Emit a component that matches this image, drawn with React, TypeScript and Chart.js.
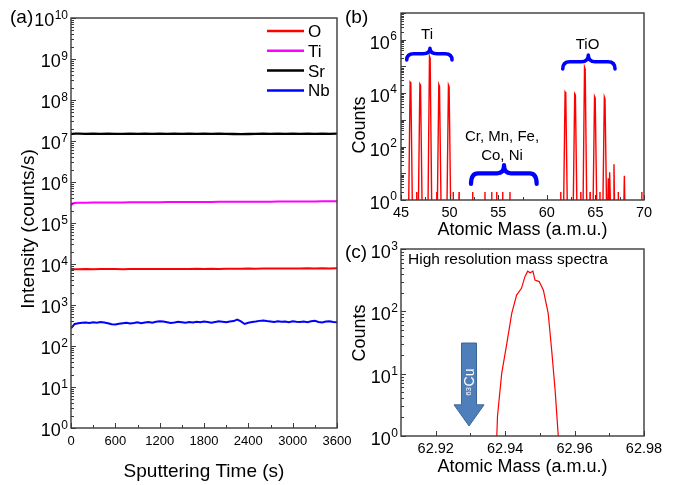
import React, { useEffect, useRef } from "react";
import { Chart, registerables } from "chart.js";
Chart.register(...registerables);

const FONT = '"Liberation Sans", Arial, Helvetica, sans-serif';
const AXIS = "#3a3a3a";

// ---------------- (a) depth profile ----------------
const timeA = [0, 25, 50, 100, 200, 300, 400, 500, 600, 700, 800, 900, 1000, 1100, 1200, 1300, 1400, 1500, 1600, 1700, 1800, 1900, 2000, 2100, 2200, 2300, 2400, 2500, 2600, 2700, 2800, 2900, 3000, 3100, 3200, 3300, 3400, 3500, 3600];
const oCounts = [7100, 7300, 7400, 7450, 7500, 7450, 7500, 7550, 7500, 7450, 7500, 7550, 7500, 7600, 7550, 7500, 7600, 7550, 7600, 7650, 7600, 7650, 7600, 7700, 7650, 7700, 7750, 7700, 7750, 7800, 7750, 7800, 7750, 7800, 7850, 7800, 7850, 7800, 7850];
const tiCounts = [270000, 300000, 308000, 312000, 314000, 315000, 316000, 317000, 318000, 318000, 319000, 320000, 321000, 322000, 322000, 323000, 324000, 324000, 325000, 326000, 326000, 327000, 328000, 328000, 329000, 330000, 330000, 331000, 332000, 332000, 333000, 334000, 334000, 335000, 336000, 336000, 337000, 338000, 338000];
const srCounts = [15000000, 15000000, 15100000, 15100000, 15000000, 15100000, 15000000, 15100000, 15000000, 15000000, 15100000, 15000000, 15100000, 15000000, 15100000, 15000000, 15100000, 15000000, 15100000, 15000000, 15100000, 15000000, 15100000, 15000000, 14800000, 14700000, 14800000, 15000000, 15100000, 15000000, 15100000, 15000000, 15100000, 15000000, 15100000, 15000000, 15100000, 15000000, 15100000];
const timeNb = [0, 50, 100, 150, 200, 250, 300, 350, 400, 450, 500, 550, 600, 650, 700, 750, 800, 850, 900, 950, 1000, 1050, 1100, 1150, 1200, 1250, 1300, 1350, 1400, 1450, 1500, 1550, 1600, 1650, 1700, 1750, 1800, 1850, 1900, 1950, 2000, 2050, 2100, 2150, 2200, 2250, 2300, 2350, 2400, 2450, 2500, 2550, 2600, 2650, 2700, 2750, 2800, 2850, 2900, 2950, 3000, 3050, 3100, 3150, 3200, 3250, 3300, 3350, 3400, 3450, 3500, 3550, 3600];
const nbCounts = [270, 345, 360, 370, 375, 365, 380, 370, 385, 375, 360, 340, 335, 350, 360, 370, 355, 365, 380, 360, 375, 385, 370, 390, 400, 395, 380, 365, 375, 390, 380, 370, 385, 375, 390, 380, 395, 385, 370, 385, 400, 390, 380, 395, 405, 440, 400, 345, 370, 385, 395, 410, 420, 405, 395, 385, 400, 390, 395, 380, 400, 390, 385, 395, 380, 400, 410, 385, 375, 395, 400, 385, 380];
const profileLabels = ["O", "Ti", "Sr", "Nb"];
const profileColors = ["#ff0000", "#ff00ff", "#000000", "#0000ff"];
const timeMajor = [0, 600, 1200, 1800, 2400, 3000, 3600];
const timeMinor = [300, 900, 1500, 2100, 2700, 3300];
const expA = [0, 1, 2, 3, 4, 5, 6, 7, 8, 9, 10];

// ---------------- (b) mass spectrum ----------------
const massB = [
  45.78, 45.94, 46.01, 46.18, 46.59, 46.61, 46.63, 46.78, 46.94, 47.01, 47.18,
  47.77, 47.93, 48.0, 48.17, 48.65, 48.67, 48.69, 48.73, 48.89, 48.96, 49.13,
  49.72, 49.88, 49.95, 50.12, 50.35, 50.37, 50.39, 50.95, 50.97, 50.99,
  52.35, 52.37, 52.39, 53.62, 53.64, 53.66, 54.31, 54.33, 54.35, 54.82, 54.84, 54.86,
  55.44, 55.46, 55.48, 56.19, 56.21, 56.23, 61.41, 61.43, 61.45,
  61.72, 61.88, 61.95, 62.12, 62.71, 62.87, 62.94, 63.11, 63.48, 63.5, 63.52,
  63.72, 63.88, 63.95, 64.12, 64.43, 64.45, 64.47, 64.75, 64.91, 64.98, 65.15,
  65.45, 65.47, 65.49, 65.76, 65.92, 65.99, 66.16, 66.26, 66.33, 66.4, 66.43, 66.5, 66.57,
  66.84, 66.91, 66.98, 67.33, 67.35, 67.37, 67.91, 67.98, 68.05, 69.75, 69.77, 69.79,
];
const countsB = [
  0.3, 26000, 24000, 0.3, 0.3, 2, 0.3, 0.3, 22000, 20000, 0.3,
  0.3, 240000, 200000, 0.3, 0.3, 2, 0.3, 0.3, 21000, 18000, 0.3,
  0.3, 20000, 17000, 0.3, 0.3, 2, 0.3, 0.3, 2, 0.3,
  0.3, 2, 0.3, 0.3, 2, 0.3, 0.3, 2, 0.3, 0.3, 2, 0.3,
  0.3, 2, 0.3, 0.3, 2, 0.3, 0.3, 2, 0.3,
  0.3, 11000, 10000, 0.3, 0.3, 9500, 8500, 0.3, 0.3, 2, 0.3,
  0.3, 95000, 80000, 0.3, 0.3, 2, 0.3, 0.3, 7500, 6500, 0.3,
  0.3, 2, 0.3, 0.3, 7200, 6000, 0.3, 0.3, 6.5, 0.3, 0.3, 11, 0.3,
  0.3, 22, 0.3, 0.3, 2, 0.3, 0.3, 8, 0.3, 0.3, 2, 0.3,
];
const massMajorB = [45, 50, 55, 60, 65, 70];
const massMinorB = [47.5, 52.5, 57.5, 62.5, 67.5];
const expB = [0, 1, 2, 3, 4, 5, 6, 7];
const expLabelB = [0, 2, 4, 6];

// ---------------- (c) high resolution ----------------
const massC = [62.936, 62.9376, 62.9378, 62.939, 62.9405, 62.9419, 62.9433, 62.9447, 62.9457, 62.9465, 62.9472, 62.948, 62.9486, 62.9498, 62.951, 62.9524, 62.9534, 62.9544, 62.9553, 62.9562];
const countsC = [0.5, 1, 2.1, 10, 31, 93, 182, 234, 360, 440, 415, 440, 318, 300, 220, 93, 24, 5.4, 1, 0.5];
const massMajorC = [62.92, 62.94, 62.96, 62.98];
const massMinorC = [62.93, 62.95, 62.97];
const expC = [0, 1, 2, 3];

// ---------------- helpers ----------------
const snap = (v: number) => Math.round(v) + 0.5;

function drawFrame(chart: any) {
  const { ctx, chartArea: a } = chart;
  ctx.save();
  ctx.strokeStyle = AXIS;
  ctx.lineWidth = 1.4;
  ctx.strokeRect(a.left, a.top, a.right - a.left, a.bottom - a.top);
  ctx.restore();
}

function drawLogY(chart: any, exps: number[], labelExps: number[], o: any) {
  const { ctx, chartArea: a } = chart;
  const ys = chart.scales.y;
  ctx.save();
  ctx.strokeStyle = AXIS;
  ctx.lineWidth = 1;
  ctx.beginPath();
  exps.forEach((n, i) => {
    const y = snap(ys.getPixelForValue(10 ** n));
    ctx.moveTo(a.left, y);
    ctx.lineTo(a.left + o.major, y);
    if (i < exps.length - 1) {
      for (let k = 2; k < 10; k++) {
        const yy = snap(ys.getPixelForValue(k * 10 ** n));
        ctx.moveTo(a.left, yy);
        ctx.lineTo(a.left + o.minor, yy);
      }
    }
  });
  ctx.stroke();
  ctx.fillStyle = "#000";
  ctx.textAlign = "left";
  ctx.textBaseline = "alphabetic";
  labelExps.forEach((n) => {
    const y = ys.getPixelForValue(10 ** n);
    const e = String(n);
    ctx.font = `${o.sup}px ${FONT}`;
    const ew = ctx.measureText(e).width;
    ctx.fillText(e, o.right - ew, y + o.supDy);
    ctx.font = `${o.base}px ${FONT}`;
    const bw = ctx.measureText("10").width;
    ctx.fillText("10", o.right - ew - bw - 0.5, y + o.baseDy);
  });
  ctx.restore();
}

function drawLinX(chart: any, majors: number[], minors: number[], o: any) {
  const { ctx, chartArea: a } = chart;
  const xs = chart.scales.x;
  ctx.save();
  ctx.strokeStyle = AXIS;
  ctx.lineWidth = 1;
  ctx.beginPath();
  majors.forEach((v) => {
    const x = snap(xs.getPixelForValue(v));
    ctx.moveTo(x, a.bottom);
    ctx.lineTo(x, a.bottom - o.major);
  });
  minors.forEach((v) => {
    const x = snap(xs.getPixelForValue(v));
    ctx.moveTo(x, a.bottom);
    ctx.lineTo(x, a.bottom - o.minor);
  });
  ctx.stroke();
  ctx.fillStyle = "#000";
  ctx.font = `${o.size}px ${FONT}`;
  ctx.textAlign = "center";
  ctx.textBaseline = "alphabetic";
  majors.forEach((v) => {
    ctx.fillText(String(v), xs.getPixelForValue(v), o.labelY);
  });
  ctx.restore();
}

function text(ctx: any, s: string, x: number, y: number, size: number, align: string, rot = 0) {
  ctx.save();
  ctx.fillStyle = "#000";
  ctx.font = `${size}px ${FONT}`;
  ctx.textAlign = align;
  ctx.textBaseline = "alphabetic";
  ctx.translate(x, y);
  if (rot) ctx.rotate(rot);
  ctx.fillText(s, 0, 0);
  ctx.restore();
}

function brace(ctx: any, x0: number, x1: number, xm: number, yTop: number, yBar: number, yEnd: number) {
  const r = Math.min(7, (xm - x0) / 3);
  ctx.beginPath();
  ctx.moveTo(x0, yEnd);
  ctx.quadraticCurveTo(x0, yBar, x0 + r, yBar);
  ctx.lineTo(xm - r, yBar);
  ctx.quadraticCurveTo(xm, yBar, xm, yTop);
  ctx.quadraticCurveTo(xm, yBar, xm + r, yBar);
  ctx.lineTo(x1 - r, yBar);
  ctx.quadraticCurveTo(x1, yBar, x1, yEnd);
  ctx.stroke();
}

const baseOptions = (pad: any, xMin: number, xMax: number, yMax: number) => ({
  animation: false,
  responsive: false,
  events: [],
  layout: { padding: pad },
  scales: {
    x: { type: "linear", min: xMin, max: xMax, display: false },
    y: { type: "logarithmic", min: 1, max: yMax, display: false },
  },
  plugins: { legend: { display: false }, tooltip: { enabled: false } },
});

function cfgA(): any {
  const arrays = [oCounts, tiCounts, srCounts];
  const datasets: any[] = arrays.map((arr, i) => ({
    label: profileLabels[i],
    data: timeA.map((t, j) => ({ x: t, y: arr[j] })),
    borderColor: profileColors[i],
    borderWidth: i === 2 ? 2.3 : 2,
    pointRadius: 0,
    tension: 0,
    clip: 0,
  }));
  datasets.push({
    label: profileLabels[3],
    data: timeNb.map((t, j) => ({ x: t, y: nbCounts[j] })),
    borderColor: profileColors[3],
    borderWidth: 2,
    pointRadius: 0,
    tension: 0,
    clip: 0,
  });
  return {
    type: "line",
    data: { datasets },
    options: baseOptions({ left: 71, top: 18, right: 676 - 337, bottom: 485 - 428 }, 0, 3600, 1e10),
    plugins: [
      {
        id: "decoA",
        afterDraw(chart: any) {
          const ctx = chart.ctx;
          drawFrame(chart);
          drawLogY(chart, expA, expA, { major: 5, minor: 3, base: 18, sup: 12, baseDy: 8, supDy: 1, right: 68 });
          drawLinX(chart, timeMajor, timeMinor, { major: 5, minor: 3, size: 13, labelY: 445 });
          text(ctx, "Sputtering Time (s)", 204, 477, 19, "center");
          text(ctx, "Intensity (counts/s)", 34, 229, 19, "center", -Math.PI / 2);
          text(ctx, "(a)", 10, 23, 19, "left");
          // legend
          ctx.save();
          chart.data.datasets.forEach((ds: any, i: number) => {
            const y = 31 + i * 19.8;
            ctx.strokeStyle = ds.borderColor;
            ctx.lineWidth = 2.5;
            ctx.beginPath();
            ctx.moveTo(267, y);
            ctx.lineTo(304, y);
            ctx.stroke();
            text(ctx, ds.label, 308, y + 6, 17, "left");
          });
          ctx.restore();
        },
      },
    ],
  };
}

function cfgB(): any {
  return {
    type: "line",
    data: {
      datasets: [
        {
          label: "spectrum",
          data: massB.map((m, j) => ({ x: m, y: countsB[j] })),
          borderColor: "#ff0000",
          borderWidth: 1.4,
          pointRadius: 0,
          tension: 0,
          clip: 0,
        },
      ],
    },
    options: baseOptions({ left: 401, top: 13, right: 676 - 644, bottom: 485 - 200 }, 45, 70, 1e7),
    plugins: [
      {
        id: "decoB",
        afterDraw(chart: any) {
          const ctx = chart.ctx;
          const xs = chart.scales.x;
          const ys = chart.scales.y;
          drawFrame(chart);
          drawLogY(chart, expB, expLabelB, { major: 5, minor: 3, base: 18, sup: 12, baseDy: 9, supDy: 0, right: 397 });
          drawLinX(chart, massMajorB, massMinorB, { major: 5, minor: 3, size: 14.5, labelY: 216.5 });
          text(ctx, "Atomic Mass (a.m.u.)", 522.5, 235, 18, "center");
          text(ctx, "Counts", 364.5, 125, 18, "center", -Math.PI / 2);
          text(ctx, "(b)", 345, 23, 19, "left");
          // braces
          ctx.save();
          ctx.strokeStyle = "#0000ff";
          ctx.lineCap = "round";
          ctx.lineJoin = "round";
          const br = [
            [45.59, 50.25, 47.98, 4.8e5, 3.0e5, 1.74e5, 3.5],
            [61.64, 67.02, 64.27, 2.7e5, 1.5e5, 8e4, 3.5],
            [52.2, 58.96, 55.6, 20.4, 10, 4, 4.2],
          ];
          br.forEach((b) => {
            ctx.lineWidth = b[6];
            brace(
              ctx,
              xs.getPixelForValue(b[0]),
              xs.getPixelForValue(b[1]),
              xs.getPixelForValue(b[2]),
              ys.getPixelForValue(b[3]),
              ys.getPixelForValue(b[4]),
              ys.getPixelForValue(b[5])
            );
          });
          ctx.restore();
          text(ctx, "Ti", 427, 38.5, 15, "center");
          text(ctx, "TiO", 587.5, 49, 15, "center");
          text(ctx, "Cr, Mn, Fe,", 502, 140.5, 15, "center");
          text(ctx, "Co, Ni", 502, 159.5, 15, "center");
        },
      },
    ],
  };
}

function cfgC(): any {
  return {
    type: "line",
    data: {
      datasets: [
        {
          label: "high resolution",
          data: massC.map((m, j) => ({ x: m, y: countsC[j] })),
          borderColor: "#ff0000",
          borderWidth: 1.2,
          pointRadius: 0,
          tension: 0,
          clip: 0,
        },
      ],
    },
    options: baseOptions({ left: 401, top: 249, right: 676 - 644, bottom: 485 - 436 }, 62.91, 62.98, 1e3),
    plugins: [
      {
        id: "decoC",
        afterDraw(chart: any) {
          const ctx = chart.ctx;
          const xs = chart.scales.x;
          const ys = chart.scales.y;
          drawFrame(chart);
          drawLogY(chart, expC, expC, { major: 5, minor: 3, base: 18, sup: 12, baseDy: 9, supDy: 1, right: 398 });
          drawLinX(chart, massMajorC, massMinorC, { major: 5, minor: 3, size: 14.5, labelY: 453 });
          text(ctx, "Atomic Mass (a.m.u.)", 522.5, 472, 18, "center");
          text(ctx, "Counts", 364.5, 333, 18, "center", -Math.PI / 2);
          text(ctx, "(c)", 345, 258, 19, "left");
          text(ctx, "High resolution mass spectra", 408, 264, 15.5, "left");
          // 63Cu arrow
          const cx = xs.getPixelForValue(62.9296);
          const yTop = ys.getPixelForValue(31);
          const yHead = ys.getPixelForValue(3.16);
          const yTip = ys.getPixelForValue(1.45);
          ctx.save();
          ctx.fillStyle = "#4f7fba";
          ctx.strokeStyle = "#3a6496";
          ctx.lineWidth = 1;
          ctx.beginPath();
          ctx.moveTo(cx - 7.5, yTop);
          ctx.lineTo(cx + 7.5, yTop);
          ctx.lineTo(cx + 7.5, yHead);
          ctx.lineTo(cx + 15, yHead);
          ctx.lineTo(cx, yTip);
          ctx.lineTo(cx - 15, yHead);
          ctx.lineTo(cx - 7.5, yHead);
          ctx.closePath();
          ctx.fill();
          ctx.stroke();
          ctx.translate(cx + 5, yHead - 9);
          ctx.rotate(-Math.PI / 2);
          ctx.fillStyle = "#ffffff";
          ctx.textBaseline = "alphabetic";
          ctx.textAlign = "left";
          ctx.font = `8px ${FONT}`;
          ctx.fillText("63", 0, -3.3);
          const w = ctx.measureText("63").width;
          ctx.font = `14px ${FONT}`;
          ctx.fillText("Cu", w + 0.5, 0);
          ctx.restore();
        },
      },
    ],
  };
}

export default function App() {
  const refA = useRef<HTMLCanvasElement>(null);
  const refB = useRef<HTMLCanvasElement>(null);
  const refC = useRef<HTMLCanvasElement>(null);
  useEffect(() => {
    const charts = [
      new Chart(refA.current as HTMLCanvasElement, cfgA()),
      new Chart(refB.current as HTMLCanvasElement, cfgB()),
      new Chart(refC.current as HTMLCanvasElement, cfgC()),
    ];
    return () => charts.forEach((c) => c.destroy());
  }, []);
  const st: React.CSSProperties = { position: "absolute", left: 0, top: 0, width: 676, height: 485 };
  return (
    <div style={{ position: "absolute", left: 0, top: 0, width: 676, height: 485, background: "#ffffff" }}>
      <canvas ref={refA} width={676} height={485} style={st} />
      <canvas ref={refB} width={676} height={485} style={st} />
      <canvas ref={refC} width={676} height={485} style={st} />
    </div>
  );
}
